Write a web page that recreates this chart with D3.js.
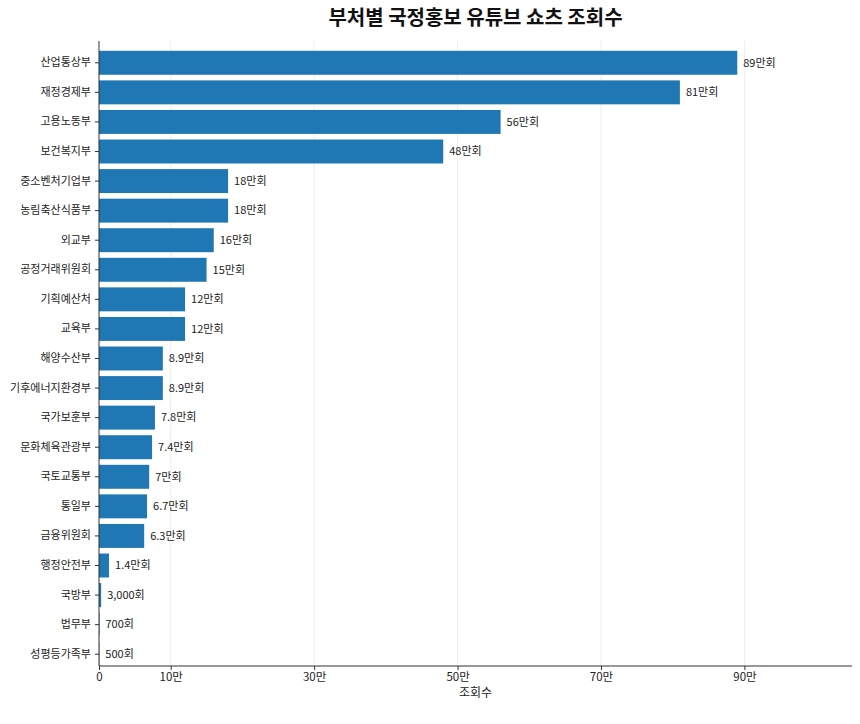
<!DOCTYPE html>
<html>
<head>
<meta charset="utf-8">
<script src="https://cdn.jsdelivr.net/npm/d3@7"></script>
<style>
  body { margin: 0; background: #fff; }
  svg text { font-family: "Noto Sans CJK KR", "Noto Sans", sans-serif; }
</style>
</head>
<body>
<script>
// data
const ministries = ['산업통상부', '재정경제부', '고용노동부', '보건복지부', '중소벤처기업부', '농림축산식품부',
    '외교부', '공정거래위원회', '기획예산처', '교육부', '해양수산부', '기후에너지환경부', '국가보훈부',
    '문화체육관광부', '국토교통부', '통일부', '금융위원회', '행정안전부', '국방부', '법무부', '성평등가족부'];
const views = [890000, 810000, 560000, 480000, 180000, 180000, 160000, 150000, 120000, 120000,
    89000, 89000, 78000, 74000, 70000, 67000, 63000, 14000, 3000, 700, 500];
const tickValues = [0, 100000, 300000, 500000, 700000, 900000];
const tickLabels = ['0', '10만', '30만', '50만', '70만', '90만'];

const width = 860, height = 724;
const plotLeft = 99, plotRight = 852, plotTop = 41, plotBottom = 666;

const svg = d3.select('body').append('svg')
    .attr('width', width)
    .attr('height', height);

const x = d3.scaleLinear().domain([0, 1050000]).range([plotLeft, plotRight]);
const y = d3.scaleBand().domain(ministries).range([48, 669])
    .paddingInner(0.19).paddingOuter(0.095);

// grid
svg.append('g').selectAll('line')
    .data(tickValues.slice(1))
    .join('line')
    .attr('x1', d => x(d)).attr('x2', d => x(d))
    .attr('y1', plotTop).attr('y2', plotBottom)
    .attr('stroke', '#e8e8e8')
    .attr('stroke-width', 0.8);

// bars
svg.append('g').selectAll('rect')
    .data(ministries)
    .join('rect')
    .attr('x', x(0))
    .attr('y', d => y(d))
    .attr('width', (d, i) => x(views[i]) - x(0))
    .attr('height', y.bandwidth())
    .attr('fill', '#1f77b4');

function fmt(v) {
    if (v >= 10000) return (Math.round(v / 1000) / 10) + '만회';
    return d3.format(',')(v) + '회';
}

// value labels
svg.append('g').selectAll('text')
    .data(ministries)
    .join('text')
    .attr('x', (d, i) => x(views[i]) + 6)
    .attr('y', d => y(d) + y.bandwidth() / 2)
    .attr('dy', '0.35em')
    .attr('font-size', 11)
    .attr('fill', '#222')
    .text((d, i) => fmt(views[i]));

// y axis
const yAxis = svg.append('g')
    .attr('transform', `translate(${plotLeft},0)`)
    .call(d3.axisLeft(y).tickSize(4).tickPadding(4));
yAxis.select('.domain').remove();
yAxis.selectAll('.tick line').attr('stroke', '#333');
yAxis.selectAll('.tick text').attr('font-size', 11).attr('fill', '#222');

// x axis
const xAxis = svg.append('g')
    .attr('transform', `translate(0,${plotBottom})`)
    .call(d3.axisBottom(x).tickValues(tickValues).tickFormat((d, i) => tickLabels[i]).tickSize(4).tickPadding(3));
xAxis.select('.domain').remove();
xAxis.selectAll('.tick line').attr('stroke', '#333');
xAxis.selectAll('.tick text').attr('font-size', 11.5).attr('fill', '#222');

// spines
svg.append('line')
    .attr('x1', plotLeft).attr('x2', plotLeft).attr('y1', plotTop).attr('y2', plotBottom)
    .attr('stroke', '#333').attr('stroke-width', 1);
svg.append('line')
    .attr('x1', plotLeft).attr('x2', plotRight).attr('y1', plotBottom).attr('y2', plotBottom)
    .attr('stroke', '#333').attr('stroke-width', 1);

svg.append('text')
    .attr('x', (plotLeft + plotRight) / 2)
    .attr('y', 697)
    .attr('text-anchor', 'middle')
    .attr('font-size', 12)
    .attr('fill', '#222')
    .text('조회수');

svg.append('text')
    .attr('x', (plotLeft + plotRight) / 2)
    .attr('y', 25)
    .attr('text-anchor', 'middle')
    .attr('font-size', 20)
    .attr('font-weight', 'bold')
    .attr('fill', '#111')
    .text('부처별 국정홍보 유튜브 쇼츠 조회수');
</script>
</body>
</html>
